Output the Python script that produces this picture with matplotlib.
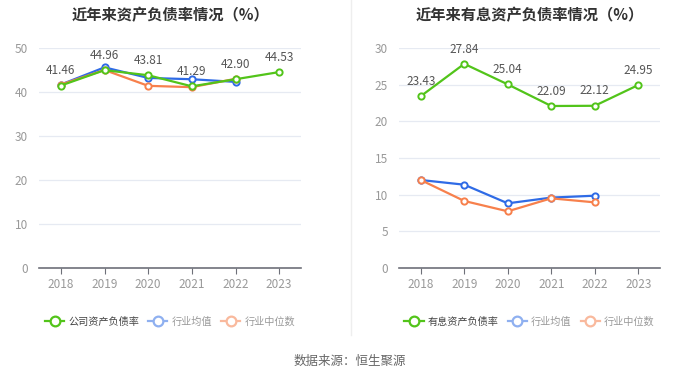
import matplotlib as mpl
mpl.use('Agg')
import matplotlib.pyplot as plt
from matplotlib.lines import Line2D

plt.rcParams['font.family'] = ['Noto Sans CJK SC', 'DejaVu Sans']

years = ['2018', '2019', '2020', '2021', '2022', '2023']

# 资产负债率
debt_company = [41.46, 44.96, 43.81, 41.29, 42.90, 44.53]
debt_mean = [41.7, 45.6, 43.2, 42.9, 42.3]
debt_median = [41.7, 45.0, 41.4, 41.1, 43.0]

# 有息资产负债率
int_company = [23.43, 27.84, 25.04, 22.09, 22.12, 24.95]
int_mean = [12.0, 11.36, 8.82, 9.6, 9.86]
int_median = [12.0, 9.14, 7.73, 9.5, 8.95]

green = '#52c41a'
blue = '#2f6be6'
orange = '#f7804c'
blue_l = '#8fb0f0'
orange_l = '#f9b99d'

fig = plt.figure(figsize=(7.0, 3.78), dpi=100)
axL = fig.add_axes([39/700, 110/378, 262/700, 220/378])
axR = fig.add_axes([399/700, 110/378, 261/700, 220/378])


def draw(ax, title, comp, mean, med, yticks, ymax, name):
    x = list(range(len(years)))
    kw = dict(lw=1.6, marker='o', ms=4.5, mfc='white', mew=1.4)
    ax.plot(x[:len(mean)], mean, color=blue, zorder=3, **kw)
    ax.plot(x[:len(med)], med, color=orange, zorder=3, **kw)
    ax.plot(x, comp, color=green, zorder=4, **kw)
    for xi, v in zip(x, comp):
        ax.annotate('%.2f' % v, (xi, v), xytext=(0, 6), textcoords='offset points',
                    ha='center', va='bottom', fontsize=8.5, color='#555555', zorder=5)
    ax.set_xlim(-0.5, 5.5)
    ax.set_ylim(0, ymax)
    ax.set_yticks(yticks)
    ax.set_xticks(x)
    ax.set_xticklabels(years)
    ax.grid(axis='y', color='#e6eaf2', lw=0.9)
    ax.set_axisbelow(True)
    for s in ['top', 'right', 'left']:
        ax.spines[s].set_visible(False)
    ax.spines['bottom'].set_color('#6e7079')
    ax.spines['bottom'].set_linewidth(1.2)
    ax.tick_params(axis='y', length=0, labelsize=8.5, labelcolor='#999999', pad=8)
    ax.tick_params(axis='x', length=4, color='#6e7079', labelsize=8.5, labelcolor='#999999', pad=3)
    ax.set_title(title, fontsize=11, fontweight='bold', color='#333333', pad=20)
    handles = [
        Line2D([], [], color=green, lw=1.6, marker='o', ms=7, mfc='white', mew=1.6),
        Line2D([], [], color=blue_l, lw=1.6, marker='o', ms=7, mfc='white', mew=1.6),
        Line2D([], [], color=orange_l, lw=1.6, marker='o', ms=7, mfc='white', mew=1.6),
    ]
    leg = ax.legend(handles, [name, '行业均值', '行业中位数'], loc='center',
                    bbox_to_anchor=(0.5, -0.245), ncol=3, frameon=False,
                    fontsize=7.3, handlelength=1.9, handletextpad=0.4, columnspacing=0.9)
    cols = ['#444444', '#999999', '#999999']
    for t, c in zip(leg.get_texts(), cols):
        t.set_color(c)


draw(axL, '近年来资产负债率情况（%）', debt_company, debt_mean, debt_median,
     [0, 10, 20, 30, 40, 50], 50, '公司资产负债率')
draw(axR, '近年来有息资产负债率情况（%）', int_company, int_mean, int_median,
     [0, 5, 10, 15, 20, 25, 30], 30, '有息资产负债率')

fig.add_artist(Line2D([351/700, 351/700], [1 - 335/378, 1.0], color='#eeeeee', lw=1))
fig.text(0.5, 1 - 361/378, '数据来源：恒生聚源', ha='center', va='center',
         fontsize=9, color='#666666')

fig.savefig('out.png', dpi=100)
